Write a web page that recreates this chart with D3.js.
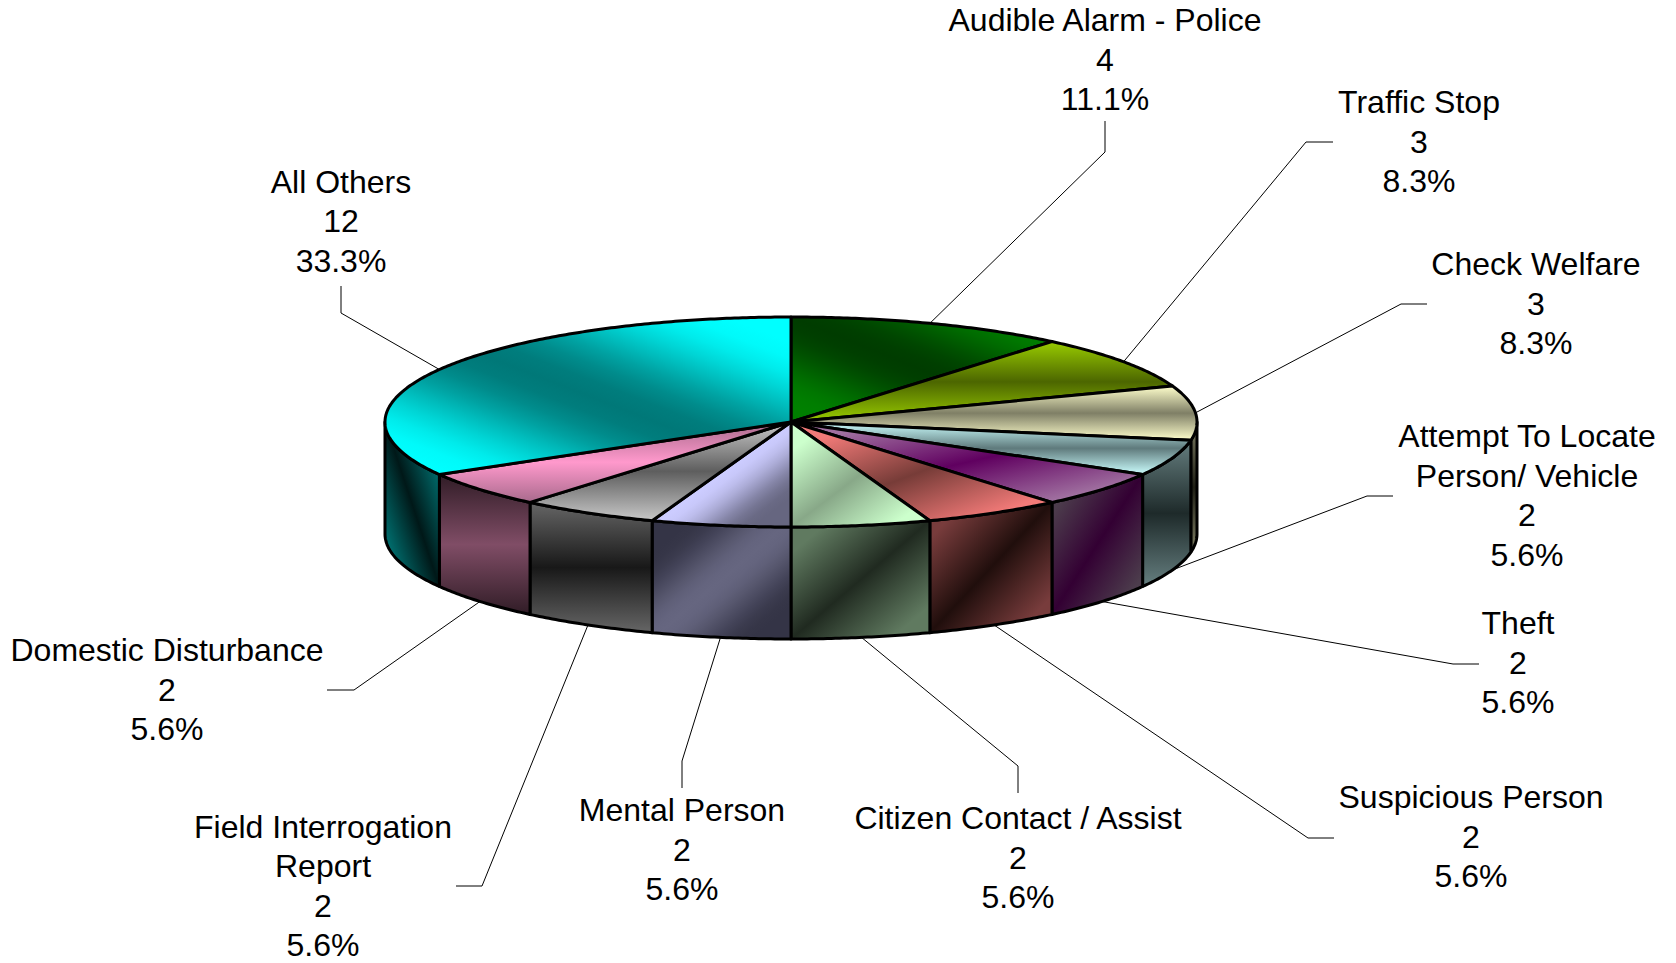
<!DOCTYPE html>
<html>
<head>
<meta charset="utf-8">
<script src="https://cdn.jsdelivr.net/npm/d3@7"></script>
<style>
  html, body { margin: 0; padding: 0; background: #fff; }
  svg { display: block; }
  text { font-family: "Liberation Sans", Arial, sans-serif; fill: #000; }
</style>
</head>
<body>
<div id="general"></div>
<script>
const w = 1676, h = 963;

// chart values, clockwise from 12 o'clock
const categories = [
  "Audible Alarm - Police", "Traffic Stop", "Check Welfare", "Attempt To Locate Person/ Vehicle",
  "Theft", "Suspicious Person", "Citizen Contact / Assist", "Mental Person",
  "Field Interrogation Report", "Domestic Disturbance", "All Others"
];
const counts = [4, 3, 3, 2, 2, 2, 2, 2, 2, 2, 12];
const percents = ["11.1%", "8.3%", "8.3%", "5.6%", "5.6%", "5.6%", "5.6%", "5.6%", "5.6%", "5.6%", "33.3%"];
const labelLines = [
  ["Audible Alarm - Police"], ["Traffic Stop"], ["Check Welfare"], ["Attempt To Locate", "Person/ Vehicle"],
  ["Theft"], ["Suspicious Person"], ["Citizen Contact / Assist"], ["Mental Person"],
  ["Field Interrogation", "Report"], ["Domestic Disturbance"], ["All Others"]
];

// gradient per slice: [edge, middle, v vertical / m main diagonal / a anti diagonal, soft ridge]
const topFill = [
  ["#008000", "#003c00", "a", true], ["#99cc00", "#4c6600", "v"], ["#ffffcc", "#7f7f66", "v"], ["#ccffff", "#5f7a7c", "v"],
  ["#a070a0", "#600060", "m"], ["#f27a78", "#773c38", "m"], ["#ccffcc", "#88a888", "m"], ["#666680", "#ccccff", "m", true],
  ["#c8c8c8", "#5e5e5e", "v"], ["#a86a8c", "#ff99cc", "v"], ["#00ffff", "#007878", "a", true]
];
const sideFill = [
  null, null, ["#808066", "#1e1e14", "v"], ["#667f80", "#1e2a2a", "v"],
  ["#4c3c4c", "#330033", "m"], ["#783c3c", "#200e0c", "m"], ["#607a60", "#202a20", "m"], ["#343446", "#666680", "m", true],
  ["#666666", "#181818", "v"], ["#301c26", "#804d66", "v"], ["#008080", "#001818", "a"]
];

// label block: centre x, first line y; leader elbow: outer end, inner bend
const labelPos = [
  [1105, 20], [1419, 102], [1536, 264], [1527, 436], [1518, 623], [1471, 797],
  [1018, 818], [682, 810], [323, 826.5], [167, 650], [341, 181.5]
];
const leaderBend = [
  [[1105, 121], [1105, 152]], [[1333, 142], [1306, 142]], [[1427, 304], [1401, 304]],
  [[1393, 496], [1367, 496]], [[1479, 664], [1453, 664]], [[1334, 838], [1308, 838]],
  [[1018, 793], [1018, 766]], [[682, 788], [682, 761]], [[456, 886], [482, 886]],
  [[327, 690], [354, 690]], [[341, 286], [341, 313]]
];

const fontSize = 32, lineStep = 39.5, depth = 112, edgeStop = { v: 0, m: 0.14, a: 0.08 };
const xPie = d3.scaleLinear().domain([-1, 1]).range([385, 1197]);
const yPie = d3.scaleLinear().domain([-1, 1]).range([317, 527]);

const px = a => xPie(Math.sin(a));
const py = a => yPie(-Math.cos(a));

const arcs = d3.pie().sort(null).startAngle(0).endAngle(2 * Math.PI)(counts);
const lineGen = d3.line();

function arcPoints(a0, a1, dy) {
  const n = Math.max(2, Math.ceil((a1 - a0) / 0.01));
  return d3.range(n + 1).map(i => {
    const a = a0 + (a1 - a0) * i / n;
    return [px(a), py(a) + dy];
  });
}

const svg = d3.select("#general").append("svg").attr("width", w).attr("height", h).attr("viewBox", `0 0 ${w} ${h}`);
const defs = svg.append("defs");

function addGradient(id, spec) {
  const dirs = { v: [0, 0, 0, 1], m: [0, 0, 1, 1], a: [1, 0, 0, 1] };
  const d = dirs[spec[2]];
  const e = edgeStop[spec[2]];
  const g = defs.append("linearGradient").attr("id", id)
    .attr("x1", d[0]).attr("y1", d[1]).attr("x2", d[2]).attr("y2", d[3]);
  const mix = d3.interpolateRgb(spec[0], spec[1]);
  const stops = spec[3]
    ? d3.range(17).map(i => {
        const t = i / 16;
        return [e + (1 - 2 * e) * t, mix(d3.easeSinInOut(1 - Math.abs(2 * t - 1)))];
      })
    : [[e, spec[0]], [0.5, spec[1]], [1 - e, spec[0]]];
  stops.forEach(s => {
    g.append("stop").attr("offset", s[0]).attr("stop-color", s[1]);
  });
}
topFill.forEach((s, i) => addGradient(`top${i}`, s));
sideFill.forEach((s, i) => { if (s) addGradient(`side${i}`, s); });

// leaders go from the label to the rim, at the middle of the slice
const anchor = d => {
  const a = (d.startAngle + d.endAngle) / 2;
  const front = Math.cos(a) < 0;
  return [px(a), py(a) + (front ? depth : 0)];
};
svg.append("g").selectAll("path")
  .data(arcs)
  .join("path")
    .attr("fill", "none")
    .attr("stroke", "#000")
    .attr("stroke-width", 1)
    .attr("d", (d, i) => lineGen([...leaderBend[i], anchor(d)]));

// walls, only the front half of the rim shows
const walls = arcs.map((d, i) => ({ i, a0: Math.max(d.startAngle, Math.PI / 2), a1: Math.min(d.endAngle, 3 * Math.PI / 2) }))
  .filter(d => d.a1 > d.a0);
svg.append("g").selectAll("path")
  .data(walls)
  .join("path")
    .attr("fill", d => `url(#side${d.i})`)
    .attr("stroke", "#000")
    .attr("stroke-width", 3)
    .attr("stroke-linejoin", "round")
    .attr("d", d => lineGen([...arcPoints(d.a0, d.a1, 0), ...arcPoints(d.a0, d.a1, depth).reverse()]) + "Z");

svg.append("g").selectAll("path")
  .data(arcs)
  .join("path")
    .attr("fill", (d, i) => `url(#top${i})`)
    .attr("stroke", "#000")
    .attr("stroke-width", 3)
    .attr("stroke-linejoin", "round")
    .attr("d", d => lineGen([[xPie(0), yPie(0)], ...arcPoints(d.startAngle, d.endAngle, 0)]) + "Z");

const labels = svg.append("g").selectAll("text")
  .data(arcs)
  .join("text")
    .attr("text-anchor", "middle")
    .attr("dominant-baseline", "central")
    .attr("font-size", fontSize);
labels.each(function(d, i) {
  const t = d3.select(this);
  [...labelLines[i], String(counts[i]), percents[i]].forEach((line, k) => {
    t.append("tspan")
      .attr("x", labelPos[i][0])
      .attr("y", labelPos[i][1] + k * lineStep)
      .text(line);
  });
});
</script>
</body>
</html>
